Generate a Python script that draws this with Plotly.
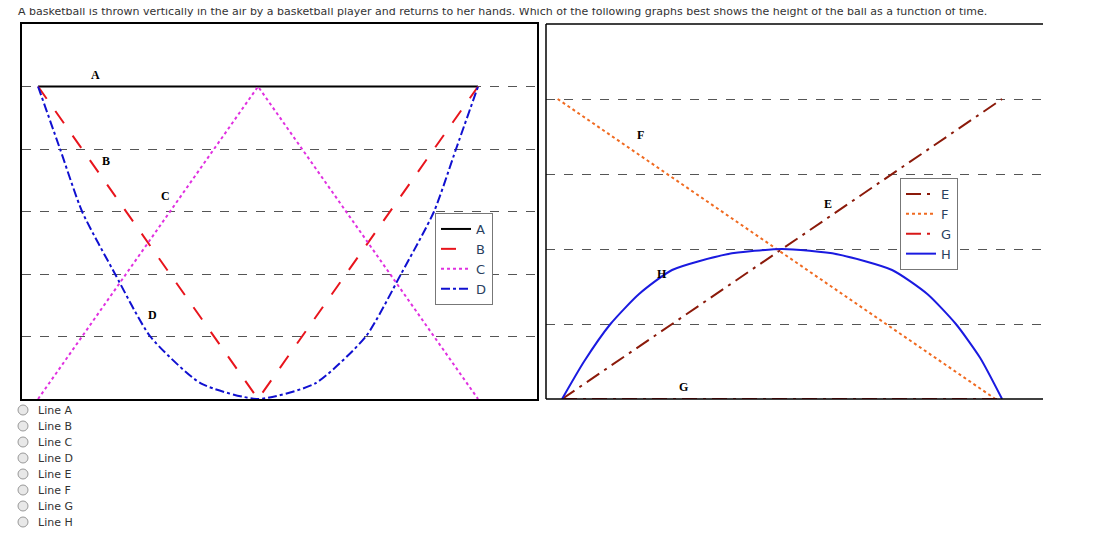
import plotly.graph_objects as go

W, H = 1077, 521  # page has 8px body margin
def px(x): return (x - 8) / W
def py(y): return 1 - (y - 8) / H

title = "A basketball is thrown vertically in the air by a basketball player and returns to her hands. Which of the following graphs best shows the height of the ball as a function of time."

# Left panel
A_t = [0, 2]; A_y = [5, 5]
B_t = [0, 1, 2]; B_y = [5, 0, 5]
C_t = [0, 1, 2]; C_y = [0, 5, 0]
D_t = [0, 0.1, 0.2, 0.35, 0.51, 0.74, 1, 1.26, 1.49, 1.65, 1.8, 1.9, 2]
D_y = [5, 4, 3, 2, 1, 0.25, 0, 0.25, 1, 2, 3, 4, 5]
# Right panel
E_t = [0, 2]; E_y = [0, 4]
F_t = [-0.02, 1.97]; F_y = [4, 0]
G_t = [0, 2]; G_y = [0, 0]
H_t = [0, 0.1, 0.22, 0.35, 0.5, 0.75, 1, 1.25, 1.5, 1.66, 1.79, 1.9, 2]
H_y = [0, 0.5, 1, 1.4, 1.72, 1.93, 2, 1.93, 1.72, 1.4, 1, 0.55, 0]

labels_left = ["A", "B", "C", "D"]; lab_lx = [0.26, 0.31, 0.58, 0.52]; lab_ly = [5.19, 3.8, 3.24, 1.35]
labels_right = ["F", "E", "H", "G"]; lab_rx = [0.355, 1.21, 0.455, 0.55]; lab_ry = [3.52, 2.6, 1.67, 0.16]
choices = ["Line A", "Line B", "Line C", "Line D", "Line E", "Line F", "Line G", "Line H"]

fig = go.Figure()
def tr(x, y, name, color, dash, xa, leg, w=2, shape="linear"):
    fig.add_trace(go.Scatter(x=x, y=y, name=name, mode="lines", xaxis=xa, yaxis=xa.replace("x", "y"),
                             legend=leg, line=dict(color=color, dash=dash, width=w, shape=shape, smoothing=0.6)))
tr(A_t, A_y, "A", "black", "solid", "x", "legend")
tr(B_t, B_y, "B", "#e8141c", "longdash", "x", "legend")
tr(C_t, C_y, "C", "#e030e0", "dot", "x", "legend")
tr(D_t, D_y, "D", "#1010d0", "dashdot", "x", "legend", shape="spline")
tr(E_t, E_y, "E", "#8b1a0a", "longdashdot", "x2", "legend2")
tr(F_t, F_y, "F", "#f06a20", "dot", "x2", "legend2")
tr(G_t, G_y, "G", "#d81818", "longdashdot", "x2", "legend2")
tr(H_t, H_y, "H", "#1a1ae0", "solid", "x2", "legend2", shape="spline")

ann = []
for t, x, y in zip(labels_left, lab_lx, lab_ly):
    ann.append(dict(x=x, y=y, xref="x", yref="y", text="<b>%s</b>" % t, showarrow=False,
                    font=dict(family="Liberation Serif", size=12, color="black")))
for t, x, y in zip(labels_right, lab_rx, lab_ry):
    ann.append(dict(x=x, y=y, xref="x2", yref="y2", text="<b>%s</b>" % t, showarrow=False,
                    font=dict(family="Liberation Serif", size=12, color="black")))
ann.append(dict(x=px(16), y=py(12), xref="paper", yref="paper", xanchor="left", yanchor="middle", text=title,
                showarrow=False, font=dict(family="DejaVu Sans", size=11, color="#333")))
shapes = []
for i, c in enumerate(choices):
    yc = 410 + 16 * i
    ann.append(dict(x=px(36), y=py(yc), xref="paper", yref="paper", xanchor="left", yanchor="middle", text=c,
                    showarrow=False, font=dict(family="DejaVu Sans", size=11, color="#333")))
    shapes.append(dict(type="circle", xref="paper", yref="paper", x0=px(18), x1=px(28),
                       y0=py(yc + 5), y1=py(yc - 5), line=dict(color="#999", width=1), fillcolor="#e8e8e8"))
for x0, y0, x1, y1 in [(546, 24, 1043, 24), (546, 24, 546, 399), (546, 399, 1043, 399)]:
    shapes.append(dict(type="line", xref="paper", yref="paper", x0=px(x0), x1=px(x1),
                       y0=py(y0), y1=py(y1), line=dict(color="black", width=1.5)))

ax = dict(showticklabels=False, zeroline=False, ticks="")
fig.update_layout(
    width=W, height=H, margin=dict(l=0, r=0, t=0, b=0), plot_bgcolor="white", paper_bgcolor="white",
    xaxis=dict(domain=[px(22), px(537)], range=[-0.073, 2.268], showgrid=False, showline=True, mirror=True,
               linecolor="black", linewidth=1.5, **ax),
    yaxis=dict(domain=[py(399), py(24)], range=[0, 6], tickvals=[1, 2, 3, 4, 5], showgrid=True,
               griddash="dash", gridcolor="#555", showline=True, mirror=True, linecolor="black", linewidth=1.5, **ax),
    xaxis2=dict(domain=[px(546), px(1043)], range=[-0.073, 2.186], showgrid=False, showline=False, **ax),
    yaxis2=dict(domain=[py(399), py(24)], range=[0, 5], tickvals=[1, 2, 3, 4], showgrid=True,
                griddash="dash", gridcolor="#555", showline=False, anchor="x2", **ax),
    legend=dict(x=px(435), y=py(213), xanchor="left", yanchor="top", bordercolor="#777", borderwidth=1,
                bgcolor="white", font=dict(family="DejaVu Sans", size=13), tracegroupgap=0),
    legend2=dict(x=px(900), y=py(178), xanchor="left", yanchor="top", bordercolor="#777", borderwidth=1,
                 bgcolor="white", font=dict(family="DejaVu Sans", size=13), tracegroupgap=0),
    annotations=ann, shapes=shapes,
)
fig.write_html("out.html")
